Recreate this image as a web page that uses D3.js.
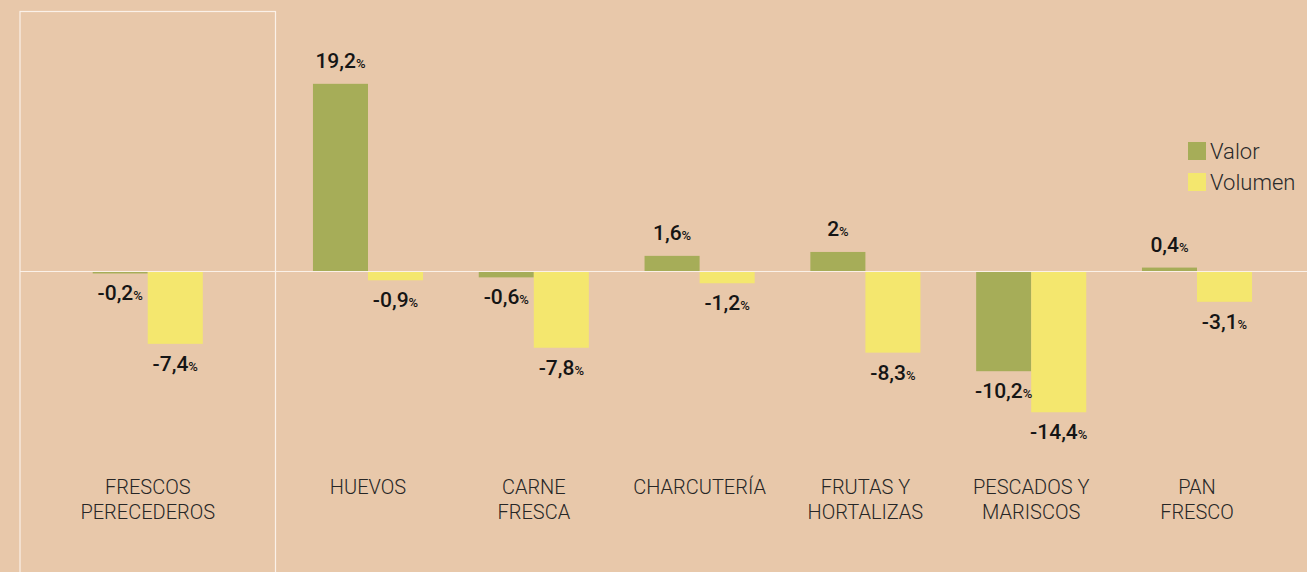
<!DOCTYPE html>
<html>
<head>
<meta charset="utf-8">
<script src="https://cdn.jsdelivr.net/npm/d3@7"></script>
<style>
  body { margin: 0; background: #e8c8aa; }
  svg { display: block; }
</style>
</head>
<body>
<svg id="chart" width="1307" height="572"></svg>
<script>
// data
var categories = [["FRESCOS", "PERECEDEROS"], ["HUEVOS"], ["CARNE", "FRESCA"], ["CHARCUTERÍA"],
  ["FRUTAS Y", "HORTALIZAS"], ["PESCADOS Y", "MARISCOS"], ["PAN", "FRESCO"]];
var keys = ["Valor", "Volumen"];
var valor = [-0.2, 19.2, -0.6, 1.6, 2, -10.2, 0.4];
var volumen = [-7.4, -0.9, -7.8, -1.2, -8.3, -14.4, -3.1];

var colors = {Valor: "#a6ad58", Volumen: "#f4e76e"};

var svg = d3.select("#chart"),
  width = +svg.attr("width"),
  height = +svg.attr("height");

var names = categories.map(c => c.join(" "));
var data = names.map((n, i) => ({name: n, lines: categories[i], Valor: valor[i], Volumen: volumen[i]}));

// first category sits alone in its framed box, the rest share one band
var boxLeft = 20, boxRight = 275.5;
var xFirst = d3.scalePoint().domain([names[0]]).range([boxLeft, boxRight]).padding(0.5);
var xRest = d3.scalePoint().domain(names.slice(1)).range([368, 1197]);
var xc = n => n == names[0] ? xFirst(n) : xRest(n);

var groupW = xRest.step() * 0.664;
var xInner = d3.scaleBand().domain(keys).range([-groupW / 2, groupW / 2]);

var y = d3.scaleLinear().domain([-20, 20]).range([467, 76]);

var font = "Roboto, 'DejaVu Sans', sans-serif";

svg.append("rect").attr("width", width).attr("height", height).attr("fill", "#e8c8aa");

// framed box
svg.append("rect")
  .attr("x", boxLeft).attr("y", 11.5)
  .attr("width", boxRight - boxLeft).attr("height", height)
  .attr("fill", "none").attr("stroke", "#fbf1e8").attr("stroke-width", 1.2);

var g = svg.append("g").selectAll("g")
  .data(data).join("g")
  .attr("transform", d => "translate(" + xc(d.name) + ",0)");

g.selectAll("rect")
  .data(d => keys.map(k => ({key: k, value: d[k]})))
  .join("rect")
  .attr("x", d => xInner(d.key))
  .attr("width", xInner.bandwidth())
  .attr("y", d => y(Math.max(0, d.value)))
  .attr("height", d => Math.abs(y(d.value) - y(0)))
  .attr("fill", d => colors[d.key]);

// zero line
svg.append("line")
  .attr("x1", boxLeft).attr("x2", width)
  .attr("y1", y(0)).attr("y2", y(0))
  .attr("stroke", "#fbf1e8").attr("stroke-width", 1.2);

// value labels
var lab = g.selectAll("text.val")
  .data(d => keys.map(k => ({key: k, value: d[k]})))
  .join("text")
  .attr("class", "val")
  .attr("x", d => xInner(d.key) + xInner.bandwidth() / 2)
  .attr("y", d => d.value >= 0 ? y(d.value) - 16 : y(d.value) + 27)
  .attr("text-anchor", "middle")
  .attr("font-family", font)
  .attr("font-weight", 500)
  .attr("font-size", 21)
  .attr("fill", "#151515");
lab.append("tspan").text(d => String(d.value).replace(".", ","));
lab.append("tspan").attr("font-size", 13).text("%");

// category labels
g.append("text")
  .attr("text-anchor", "middle")
  .attr("font-family", font)
  .attr("font-weight", 300)
  .attr("font-size", 20)
  .attr("fill", "#262626")
  .selectAll("tspan")
  .data(d => d.lines)
  .join("tspan")
  .attr("x", 0)
  .attr("y", (d, i) => 494 + i * 25)
  .text(d => d);

// legend
var legend = svg.append("g").attr("transform", "translate(1188,142)")
  .selectAll("g").data(keys).join("g")
  .attr("transform", (d, i) => "translate(0," + i * 31 + ")");
legend.append("rect").attr("width", 18).attr("height", 18).attr("fill", d => colors[d]);
legend.append("text")
  .attr("x", 22).attr("y", 17)
  .attr("font-family", font)
  .attr("font-weight", 300)
  .attr("font-size", 22)
  .attr("fill", "#2a2a2a")
  .text(d => d);
</script>
</body>
</html>
